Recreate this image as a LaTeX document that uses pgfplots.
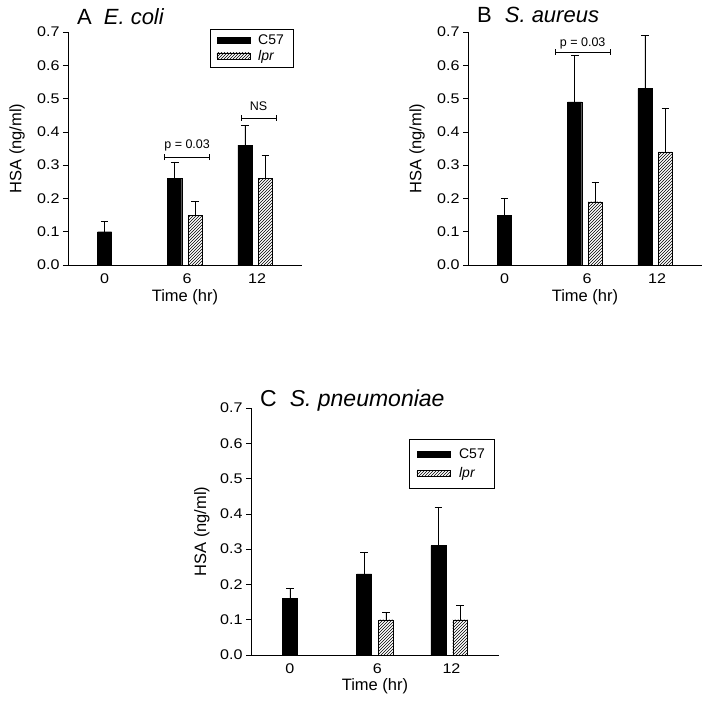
\documentclass[border=0pt]{standalone}
\usepackage{fontspec}
\setmainfont{Liberation Sans}
\newfontfamily\tickfont[FakeStretch=1.15]{Liberation Sans}
\usepackage{pgfplots}
\usepackage{pgfplotstable}
\pgfplotsset{compat=1.18}
\usetikzlibrary{patterns}

% group index g (0 = 0 hr, 1 = 6 hr, 2 = 12 hr), mean y, upper error e
\pgfplotstableread{
g y e
0 0.10 0.03
1 0.26 0.05
2 0.36 0.06
}\AcFS
\pgfplotstableread{
g y e
1 0.15 0.04
2 0.26 0.07
}\Alpr
\pgfplotstableread{
g y e
0 0.15 0.05
1 0.49 0.14
2 0.53 0.16
}\BcFS
\pgfplotstableread{
g y e
1 0.19 0.06
2 0.34 0.13
}\Blpr
\pgfplotstableread{
g y e
0 0.16 0.03
1 0.23 0.06
2 0.31 0.11
}\CcFS
\pgfplotstableread{
g y e
1 0.10 0.02
2 0.10 0.04
}\Clpr

\pgfplotsset{
  hsa/.style={
    axis lines=left,
    axis line style={-, line width=0.6pt},
    scale only axis,
    xmin=-0.67, xmax=2.67, ymin=0, ymax=0.7,
    ytick={0,0.1,0.2,0.3,0.4,0.5,0.6,0.7},
    xtick={-0.147,1.03,2.03},
    xticklabels={0,6,12},
    x tick style={draw=none},
    y tick style={black, line width=0.6pt},
    tick align=outside,
    major tick length=5pt,
    /pgf/number format/assume math mode=true,
    yticklabel style={/pgf/number format/.cd, fixed, fixed zerofill, precision=1},
    tick label style={font=\tickfont\fontsize{14}{16}\selectfont},
    label style={font=\fontsize{16.5}{18}\selectfont},
    xlabel={Time (hr)}, ylabel={HSA (ng/ml)},
    ybar, bar width=0.2, bar shift=0pt,
    clip=false,
    legend image code/.code={\draw[#1] (0pt,-3pt) rectangle (33pt,3pt);},
    legend cell align=left,
  },
  ebar/.style={
    error bars/.cd, y dir=plus, y explicit,
    error mark=-,
    error bar style={line width=0.5pt, black},
    error mark options={rotate=90, line width=0.5pt, mark size=3.8pt, black}},
  cfs/.style={draw=black, fill=black, line width=0.4pt, ebar},
  lpr/.style={draw=black, pattern=north east lines, line width=0.4pt, ebar},
}

\newcommand{\bracket}[3]{% x1, x2, y
  \draw[line width=0.5pt] (axis cs:#1,#3) -- (axis cs:#2,#3);
  \draw[line width=0.5pt] (axis cs:#1,#3) ++(0pt,-3pt) -- ++(0pt,6pt);
  \draw[line width=0.5pt] (axis cs:#2,#3) ++(0pt,-3pt) -- ++(0pt,6pt);
}

\begin{document}
\begin{tikzpicture}[x=1pt,y=1pt]
\path[use as bounding box] (0,0) rectangle (707,706);

% ---------- Panel A ----------
\begin{axis}[hsa, at={(68pt,441pt)}, anchor=south west, width=234pt, height=233pt,
  xlabel style={at={(axis description cs:0.5,-0.137)}, anchor=center},
  ylabel style={at={(axis description cs:-0.218,0.5)}, anchor=center},
  legend style={at={(0.962,1.013)}, anchor=north east, draw=black, line width=0.5pt,
    font=\fontsize{14}{15}\selectfont, inner xsep=7pt, inner ysep=3.5pt,
    row sep=0pt, column sep=6pt}]
\addplot[cfs] table[x expr=\thisrow{g}-0.147, y=y, y error=e] {\AcFS};
\addplot[lpr] table[x expr=\thisrow{g}+0.147, y=y, y error=e] {\Alpr};
\legend{C57, \textit{lpr}}
\bracket{0.707}{1.35}{0.324}
\node[anchor=base, inner sep=0pt, font=\fontsize{12.5}{14}\selectfont, yshift=8.5pt] at (axis cs:1.03,0.324) {p = 0.03};
\bracket{1.80}{2.30}{0.442}
\node[anchor=base, inner sep=0pt, font=\fontsize{12.5}{14}\selectfont, yshift=7.7pt] at (axis cs:2.05,0.442) {NS};
\node[anchor=base west, inner sep=0pt, font=\fontsize{22}{24}\selectfont, xshift=9pt, yshift=7pt] at (rel axis cs:0,1) {A\hspace{12pt}\textit{E. coli}};
\end{axis}

% ---------- Panel B ----------
\begin{axis}[hsa, at={(468pt,441pt)}, anchor=south west, width=234pt, height=233pt,
  xlabel style={at={(axis description cs:0.5,-0.137)}, anchor=center},
  ylabel style={at={(axis description cs:-0.218,0.5)}, anchor=center}]
\addplot[cfs] table[x expr=\thisrow{g}-0.147, y=y, y error=e] {\BcFS};
\addplot[lpr] table[x expr=\thisrow{g}+0.147, y=y, y error=e] {\Blpr};
\bracket{0.574}{1.36}{0.640}
\node[anchor=base, inner sep=0pt, font=\fontsize{12.5}{14}\selectfont, yshift=5.5pt] at (axis cs:0.967,0.640) {p = 0.03};
\node[anchor=base west, inner sep=0pt, font=\fontsize{22}{24}\selectfont, xshift=9pt, yshift=9pt] at (rel axis cs:0,1) {B\hspace{13pt}\textit{S. aureus}};
\end{axis}

% ---------- Panel C ----------
\begin{axis}[hsa, at={(251pt,51pt)}, anchor=south west, width=248pt, height=247pt,
  xlabel style={at={(axis description cs:0.5,-0.126)}, anchor=center},
  ylabel style={at={(axis description cs:-0.198,0.5)}, anchor=center},
  legend style={at={(0.98,0.874)}, anchor=north east, draw=black, line width=0.5pt,
    font=\fontsize{14}{15}\selectfont, inner xsep=7pt, inner ysep=7pt,
    row sep=4pt, column sep=7pt}]
\addplot[cfs] table[x expr=\thisrow{g}-0.147, y=y, y error=e] {\CcFS};
\addplot[lpr] table[x expr=\thisrow{g}+0.147, y=y, y error=e] {\Clpr};
\legend{C57, \textit{lpr}}
\node[anchor=base west, inner sep=0pt, font=\fontsize{23}{25}\selectfont, xshift=9pt, yshift=1.6pt] at (rel axis cs:0,1) {C\hspace{13pt}\textit{S. pneumoniae}};
\end{axis}
\end{tikzpicture}
\end{document}
